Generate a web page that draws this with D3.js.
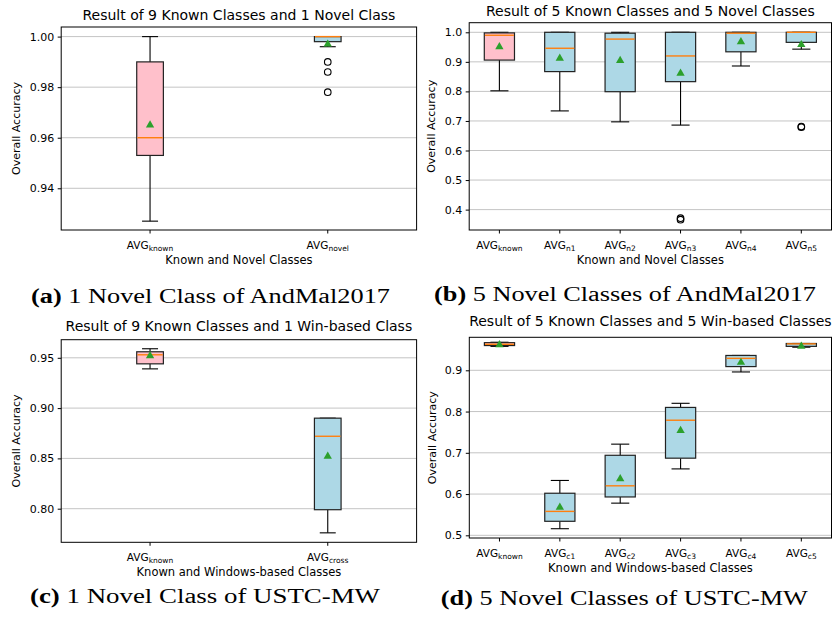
<!DOCTYPE html>
<html>
<head>
<meta charset="utf-8">
<script src="https://cdn.jsdelivr.net/npm/d3@7"></script>
<style>
  body { margin: 0; background: #fff; }
  text { font-family: "DejaVu Sans", sans-serif; fill: #000; }
</style>
</head>
<body>
<script>
// ---- data ----
// (a) 9 known + 1 novel, AndMal2017
var catsA = ["known", "novel"];
var lowA = [0.927, 0.996];
var q1A = [0.953, 0.998];
var medA = [0.960, 1.000];
var q3A = [0.990, 1.000];
var highA = [1.000, 1.000];
var meanA = [0.965, 0.997];
var outA = [[], [0.990, 0.986, 0.978]];
var ticksA = [0.94, 0.96, 0.98, 1.00];

// (b) 5 known + 5 novel, AndMal2017
var catsB = ["known", "n1", "n2", "n3", "n4", "n5"];
var lowB = [0.802, 0.734, 0.697, 0.686, 0.886, 0.943];
var q1B = [0.906, 0.867, 0.799, 0.833, 0.934, 0.966];
var medB = [0.990, 0.946, 0.977, 0.920, 0.997, 1.000];
var q3B = [0.998, 1.000, 0.997, 1.000, 1.000, 1.000];
var highB = [1.000, 1.000, 1.000, 1.000, 1.000, 1.000];
var meanB = [0.951, 0.912, 0.904, 0.861, 0.968, 0.958];
var outB = [[], [], [], [0.371, 0.366], [], [0.681, 0.679]];
var ticksB = [0.4, 0.5, 0.6, 0.7, 0.8, 0.9, 1.0];

// (c) 9 known + 1 win-based, USTC-MW
var catsC = ["known", "cross"];
var lowC = [0.939, 0.776];
var q1C = [0.944, 0.799];
var medC = [0.953, 0.872];
var q3C = [0.956, 0.890];
var highC = [0.959, 0.890];
var meanC = [0.952, 0.852];
var outC = [[], []];
var ticksC = [0.80, 0.85, 0.90, 0.95];

// (d) 5 known + 5 win-based, USTC-MW
var catsD = ["known", "c1", "c2", "c3", "c4", "c5"];
var lowD = [0.958, 0.516, 0.578, 0.661, 0.896, 0.956];
var q1D = [0.960, 0.534, 0.593, 0.687, 0.909, 0.958];
var medD = [0.963, 0.558, 0.620, 0.779, 0.929, 0.964];
var q3D = [0.967, 0.602, 0.694, 0.810, 0.936, 0.965];
var highD = [0.968, 0.633, 0.721, 0.820, 0.936, 0.965];
var meanD = [0.962, 0.568, 0.637, 0.754, 0.919, 0.958];
var outD = [[], [], [], [], [], []];
var ticksD = [0.5, 0.6, 0.7, 0.8, 0.9];

var pink = "#ffc0cb";
var lightBlue = "#add8e6";
var medianColor = "#ff7f0e";
var meanColor = "#2ca02c";
var gridColor = "#c4c4c4";

var svg = d3.select("body").append("svg")
    .attr("width", 832)
    .attr("height", 618);

function drawPanel(p) {
    var n = p.cats.length;
    var x = d3.scaleLinear().domain([0.5, n + 0.5]).range([p.left, p.right]);
    var y = d3.scaleLinear().domain(p.yDomain).range([p.bottom, p.top]);
    var step = x(2) - x(1);
    var boxW = step * p.boxFrac;
    var capW = boxW * 0.6;

    var g = svg.append("g");

    // grid
    g.selectAll(".grid").data(p.ticks).enter().append("line")
        .attr("x1", p.left).attr("x2", p.right)
        .attr("y1", function(d) { return y(d); })
        .attr("y2", function(d) { return y(d); })
        .attr("stroke", gridColor)
        .attr("stroke-width", 1);

    var idx = d3.range(n);
    var boxes = g.selectAll(".box").data(idx).enter().append("g");

    // whiskers
    boxes.append("line")
        .attr("x1", function(i) { return x(i + 1); })
        .attr("x2", function(i) { return x(i + 1); })
        .attr("y1", function(i) { return y(p.low[i]); })
        .attr("y2", function(i) { return y(p.q1[i]); })
        .attr("stroke", "#000").attr("stroke-width", 1.1);
    boxes.append("line")
        .attr("x1", function(i) { return x(i + 1); })
        .attr("x2", function(i) { return x(i + 1); })
        .attr("y1", function(i) { return y(p.q3[i]); })
        .attr("y2", function(i) { return y(p.high[i]); })
        .attr("stroke", "#000").attr("stroke-width", 1.1);
    // caps
    [p.low, p.high].forEach(function(arr) {
        boxes.append("line")
            .attr("x1", function(i) { return x(i + 1) - capW / 2; })
            .attr("x2", function(i) { return x(i + 1) + capW / 2; })
            .attr("y1", function(i) { return y(arr[i]); })
            .attr("y2", function(i) { return y(arr[i]); })
            .attr("stroke", "#000").attr("stroke-width", 1.1);
    });
    // box
    boxes.append("rect")
        .attr("x", function(i) { return x(i + 1) - boxW / 2; })
        .attr("width", boxW)
        .attr("y", function(i) { return y(p.q3[i]); })
        .attr("height", function(i) { return Math.max(y(p.q1[i]) - y(p.q3[i]), 0.5); })
        .attr("fill", function(i) { return i === 0 ? pink : lightBlue; })
        .attr("stroke", "#222").attr("stroke-width", 1.2);
    // median
    boxes.append("line")
        .attr("x1", function(i) { return x(i + 1) - boxW / 2 + 0.6; })
        .attr("x2", function(i) { return x(i + 1) + boxW / 2 - 0.6; })
        .attr("y1", function(i) { return y(p.med[i]); })
        .attr("y2", function(i) { return y(p.med[i]); })
        .attr("stroke", medianColor).attr("stroke-width", 1.4);
    // outliers
    boxes.each(function(i) {
        d3.select(this).selectAll("circle").data(p.out[i]).enter().append("circle")
            .attr("cx", x(i + 1))
            .attr("cy", function(d) { return y(d); })
            .attr("r", 3.3)
            .attr("fill", "none")
            .attr("stroke", "#000").attr("stroke-width", 1.1);
    });
    // mean
    boxes.append("path")
        .attr("d", d3.symbol(d3.symbolTriangle).size(30))
        .attr("transform", function(i) { return "translate(" + x(i + 1) + "," + y(p.mean[i]) + ")"; })
        .attr("fill", meanColor);

    // frame
    g.append("rect")
        .attr("x", p.left).attr("y", p.top)
        .attr("width", p.right - p.left).attr("height", p.bottom - p.top)
        .attr("fill", "none").attr("stroke", "#000").attr("stroke-width", 1);

    // y axis
    var yAxis = d3.axisLeft(y).tickValues(p.ticks).tickFormat(d3.format(p.fmt))
        .tickSize(3.5).tickSizeOuter(0).tickPadding(3.5);
    var ya = g.append("g").attr("transform", "translate(" + p.left + ",0)").call(yAxis);
    ya.select(".domain").remove();
    ya.selectAll("text").style("font-size", "11px").style("font-family", "DejaVu Sans");

    // x ticks
    var xt = g.selectAll(".xt").data(idx).enter().append("g");
    xt.append("line")
        .attr("x1", function(i) { return x(i + 1); })
        .attr("x2", function(i) { return x(i + 1); })
        .attr("y1", p.bottom).attr("y2", p.bottom + 3.5)
        .attr("stroke", "#000");
    var lbl = xt.append("text")
        .attr("x", function(i) { return x(i + 1); })
        .attr("y", p.bottom + 19)
        .attr("text-anchor", "middle")
        .style("font-size", "10.5px");
    lbl.append("tspan").text("AVG");
    lbl.append("tspan")
        .attr("dy", 2)
        .style("font-size", "7.5px")
        .text(function(i) { return p.cats[i]; });

    // labels
    g.append("text")
        .attr("x", (p.left + p.right) / 2)
        .attr("y", p.titleY)
        .attr("text-anchor", "middle")
        .style("font-size", "14px")
        .text(p.title);
    g.append("text")
        .attr("x", (p.left + p.right) / 2)
        .attr("y", p.bottom + 33.5)
        .attr("text-anchor", "middle")
        .style("font-size", "11.5px")
        .text(p.xLabel);
    g.append("text")
        .attr("transform", "translate(" + p.yLabelX + "," + ((p.top + p.bottom) / 2) + ") rotate(-90)")
        .attr("text-anchor", "middle")
        .attr("dominant-baseline", "central")
        .style("font-size", "11px")
        .text("Overall Accuracy");

    var cap = g.append("text")
        .attr("x", p.capX)
        .attr("y", p.capY)
        .attr("text-anchor", "middle")
        .attr("dominant-baseline", "central")
        .attr("textLength", p.capW)
        .attr("lengthAdjust", "spacingAndGlyphs")
        .style("font-family", "Liberation Serif, serif")
        .style("font-size", "20px");
    cap.append("tspan").style("font-weight", "bold").text(p.capTag + " ");
    cap.append("tspan").text(p.caption);
}

drawPanel({
    cats: catsA, low: lowA, q1: q1A, med: medA, q3: q3A, high: highA, mean: meanA, out: outA,
    ticks: ticksA, fmt: ".2f", yDomain: [0.9235, 1.0038],
    left: 61.2, right: 416.6, top: 27, bottom: 230, boxFrac: 0.15,
    title: "Result of 9 Known Classes and 1 Novel Class", titleY: 19.5,
    xLabel: "Known and Novel Classes", yLabelX: 16,
    capTag: "(a)", caption: "1 Novel Class of AndMal2017", capX: 210.5, capY: 296, capW: 359
});
drawPanel({
    cats: catsB, low: lowB, q1: q1B, med: medB, q3: q3B, high: highB, mean: meanB, out: outB,
    ticks: ticksB, fmt: ".1f", yDomain: [0.331, 1.0325],
    left: 469.2, right: 831.5, top: 22.7, bottom: 230, boxFrac: 0.5,
    title: "Result of 5 Known Classes and 5 Novel Classes", titleY: 16,
    xLabel: "Known and Novel Classes", yLabelX: 431,
    capTag: "(b)", caption: "5 Novel Classes of AndMal2017", capX: 625, capY: 293.5, capW: 382
});
drawPanel({
    cats: catsC, low: lowC, q1: q1C, med: medC, q3: q3C, high: highC, mean: meanC, out: outC,
    ticks: ticksC, fmt: ".2f", yDomain: [0.7666, 0.968],
    left: 61.2, right: 416.6, top: 339.7, bottom: 542.3, boxFrac: 0.15,
    title: "Result of 9 Known Classes and 1 Win-based Class", titleY: 330.5,
    xLabel: "Known and Windows-based Classes", yLabelX: 16,
    capTag: "(c)", caption: "1 Novel Class of USTC-MW", capX: 205, capY: 595.5, capW: 350
});
drawPanel({
    cats: catsD, low: lowD, q1: q1D, med: medD, q3: q3D, high: highD, mean: meanD, out: outD,
    ticks: ticksD, fmt: ".1f", yDomain: [0.4935, 0.98],
    left: 469.3, right: 831.5, top: 337.3, bottom: 538, boxFrac: 0.5,
    title: "Result of 5 Known Classes and 5 Win-based Classes", titleY: 326,
    xLabel: "Known and Windows-based Classes", yLabelX: 432,
    capTag: "(d)", caption: "5 Novel Classes of USTC-MW", capX: 624.3, capY: 598, capW: 367
});
</script>
</body>
</html>
